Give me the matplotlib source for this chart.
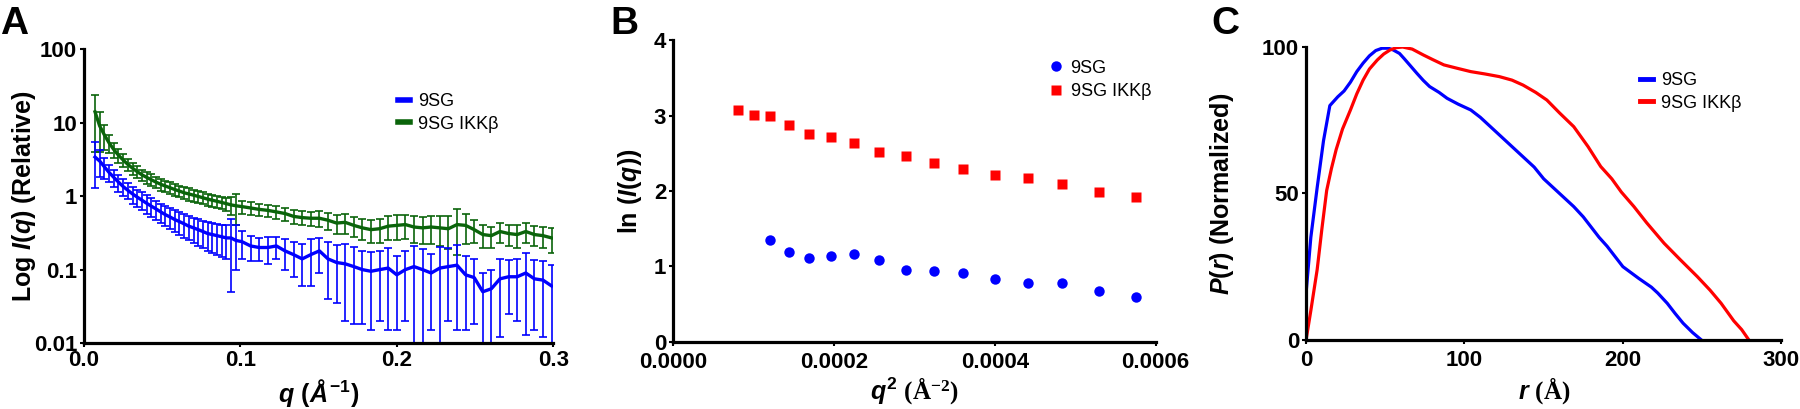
import matplotlib
matplotlib.use('Agg')
import matplotlib.pyplot as plt
from matplotlib.lines import Line2D
from matplotlib.ticker import NullLocator, FormatStrFormatter

plt.rcParams['font.family'] = ['Liberation Sans', 'DejaVu Sans']
plt.rcParams['font.weight'] = 'bold'
plt.rcParams['axes.labelweight'] = 'bold'
plt.rcParams['mathtext.fontset'] = 'custom'
plt.rcParams['mathtext.rm'] = 'Liberation Sans:bold'
plt.rcParams['mathtext.it'] = 'Liberation Sans:bold:italic'
plt.rcParams['mathtext.bf'] = 'Liberation Serif:bold'

# panel A: scattering curves
q = [0.007, 0.010, 0.013, 0.016, 0.019, 0.022, 0.025, 0.028, 0.031, 0.034,
     0.037, 0.040, 0.043, 0.046, 0.049, 0.052, 0.055, 0.058, 0.061, 0.064,
     0.067, 0.070, 0.073, 0.076, 0.079, 0.082, 0.085, 0.088, 0.091, 0.094,
     0.097, 0.101, 0.1065, 0.112, 0.1175, 0.123, 0.1285, 0.134, 0.1395, 0.145,
     0.1505, 0.156, 0.1615, 0.167, 0.1725, 0.178, 0.1835, 0.189, 0.1945, 0.200,
     0.2055, 0.211, 0.2165, 0.222, 0.2275, 0.233, 0.2385, 0.244, 0.2495, 0.255,
     0.2605, 0.266, 0.2715, 0.277, 0.2825, 0.288, 0.2935, 0.299]
i_9sg = [3.4, 3.0, 2.5, 2.1, 1.8, 1.55, 1.35, 1.2, 1.07, 0.97,
         0.88, 0.8, 0.73, 0.67, 0.61, 0.56, 0.52, 0.48, 0.45, 0.42,
         0.39, 0.37, 0.35, 0.33, 0.31, 0.30, 0.29, 0.28, 0.27, 0.27,
         0.25, 0.24, 0.21, 0.20, 0.20, 0.21, 0.18, 0.16, 0.14, 0.16,
         0.18, 0.14, 0.125, 0.12, 0.11, 0.10, 0.095, 0.10, 0.105, 0.085,
         0.10, 0.11, 0.10, 0.09, 0.105, 0.11, 0.115, 0.085, 0.078, 0.05,
         0.055, 0.075, 0.08, 0.08, 0.09, 0.075, 0.072, 0.06]
e_9sg = [2.1, 1.2, 0.8, 0.55, 0.45, 0.4, 0.35, 0.3, 0.28, 0.26,
         0.24, 0.22, 0.21, 0.2, 0.18, 0.17, 0.16, 0.16, 0.15, 0.15,
         0.14, 0.14, 0.14, 0.13, 0.13, 0.13, 0.13, 0.13, 0.13, 0.22,
         0.15, 0.1, 0.08, 0.07, 0.08, 0.07, 0.08, 0.08, 0.08, 0.1,
         0.09, 0.1, 0.09, 0.1, 0.092, 0.082, 0.08, 0.08, 0.09, 0.07,
         0.08, 0.1, 0.09, 0.075, 0.1, 0.09, 0.1, 0.07, 0.06, 0.04,
         0.045, 0.063, 0.055, 0.06, 0.077, 0.06, 0.06, 0.055]
i_ikk = [14, 9.0, 6.8, 5.3, 4.3, 3.6, 3.1, 2.7, 2.4, 2.15,
         1.95, 1.8, 1.67, 1.55, 1.45, 1.37, 1.3, 1.23, 1.17, 1.11,
         1.07, 1.03, 0.99, 0.95, 0.91, 0.88, 0.85, 0.82, 0.79, 0.76,
         0.74, 0.72, 0.69, 0.66, 0.64, 0.61, 0.58, 0.53, 0.51, 0.50,
         0.50, 0.47, 0.43, 0.44, 0.40, 0.37, 0.35, 0.36, 0.39, 0.40,
         0.41, 0.38, 0.37, 0.38, 0.37, 0.36, 0.41, 0.40, 0.35, 0.30,
         0.29, 0.33, 0.31, 0.30, 0.33, 0.30, 0.29, 0.27]
e_ikk = [10, 5, 2.5, 1.5, 1.0, 0.8, 0.6, 0.5, 0.45, 0.4,
         0.35, 0.33, 0.3, 0.28, 0.26, 0.25, 0.24, 0.22, 0.21, 0.2,
         0.2, 0.19, 0.18, 0.18, 0.17, 0.17, 0.16, 0.16, 0.16, 0.2,
         0.33, 0.14, 0.13, 0.13, 0.12, 0.12, 0.12, 0.11, 0.11, 0.11,
         0.12, 0.12, 0.12, 0.13, 0.12, 0.12, 0.12, 0.13, 0.14, 0.15,
         0.15, 0.15, 0.15, 0.16, 0.16, 0.17, 0.25, 0.18, 0.12, 0.1,
         0.09, 0.1, 0.1, 0.1, 0.1, 0.09, 0.09, 0.1]

# panel B: Guinier region
q2 = [0.000081, 0.0001, 0.000121, 0.000144, 0.000169, 0.000196, 0.000225, 0.000256,
      0.000289, 0.000324, 0.000361, 0.0004, 0.000441, 0.000484, 0.000529, 0.000576]
ln_ikk = [3.07, 3.01, 2.99, 2.88, 2.76, 2.71, 2.63, 2.52,
          2.46, 2.37, 2.29, 2.21, 2.17, 2.09, 1.99, 1.92]
q2_9sg = q2[2:]
ln_9sg = [1.35, 1.19, 1.11, 1.14, 1.16, 1.08, 0.95, 0.94, 0.91, 0.84, 0.78, 0.78, 0.67, 0.60]

# panel C: pair distance distribution
r_9sg = [0, 3, 7, 11, 15, 20, 24, 28, 32, 36, 40, 44, 48, 52, 55, 59, 62, 66, 70, 74,
         78, 84, 89, 96, 104, 110, 116, 123, 130, 137, 144, 150, 160, 169, 175, 180,
         185, 190, 195, 200, 205, 210, 214, 218, 222, 228, 233, 238, 244, 249.5]
p_9sg = [16, 35, 52, 68, 80, 83, 85, 88, 91.6, 94.5, 97, 98.8, 99.6, 99.6, 99, 97.8,
         96, 93.5, 91, 88.6, 86.5, 84.5, 82.5, 80.5, 78.5, 76, 73, 69.5, 66, 62.5,
         59, 55, 50, 45.5, 42, 38.5, 35, 32, 28.5, 25, 23, 21, 19.5, 18, 16, 12.5,
         9, 5.7, 2.5, 0]
r_ikk = [0, 3, 7, 10, 13, 16, 19, 23, 28, 32, 36, 40, 45, 49, 53, 57, 61, 67, 74, 80,
         87, 95, 104, 113, 122, 130, 137, 145, 152, 160, 169, 178, 186, 193, 199, 207,
         215, 226, 236, 247, 255, 262, 266, 270, 275, 279.5]
p_ikk = [0, 10, 24, 38, 51, 58.5, 65, 72, 78.5, 84, 88.7, 92.5, 95.6, 97.6, 99, 99.8,
         100, 99.3, 97.3, 95.7, 93.9, 92.8, 91.6, 90.8, 89.9, 88.7, 87, 84.5, 81.9,
         77.5, 72.8, 66, 59.2, 55, 50.5, 45.5, 40, 33, 27.5, 21.6, 17, 12.5, 9.5,
         6.5, 3.5, 0]

BLUE = '#0000ff'
GREEN = '#0a640a'
RED = '#ff0000'


def style_axis(ax, xpad=2):
    ax.spines['top'].set_visible(False)
    ax.spines['right'].set_visible(False)
    ax.spines['left'].set_linewidth(2.3)
    ax.spines['bottom'].set_linewidth(2.3)
    ax.tick_params(direction='out', length=3, width=1.5, labelsize=16, pad=2)
    ax.tick_params(axis='x', pad=xpad)
    for lab in ax.get_xticklabels() + ax.get_yticklabels():
        lab.set_fontweight('bold')


fig = plt.figure(figsize=(18, 4.09), dpi=100)

# A
axA = fig.add_axes([0.0467, 0.161, 0.2606, 0.719])
axA.errorbar(q, i_ikk, yerr=e_ikk, color=GREEN, lw=2.4, elinewidth=1.2,
             capsize=3, capthick=1.2)
axA.errorbar(q, i_9sg, yerr=e_9sg, color=BLUE, lw=2.4, elinewidth=1.2,
             capsize=3, capthick=1.2)
axA.set_yscale('log')
axA.set_xlim(0, 0.3)
axA.set_ylim(0.01, 100)
axA.set_yticks([0.01, 0.1, 1, 10, 100])
axA.set_yticklabels(['0.01', '0.1', '1', '10', '100'])
axA.yaxis.set_minor_locator(NullLocator())
axA.set_xticks([0.0, 0.1, 0.2, 0.3])
axA.set_xticklabels(['0.0', '0.1', '0.2', '0.3'])
style_axis(axA)
axA.set_ylabel(r'Log $I(q)$ (Relative)', fontsize=18, fontweight='bold')
axA.set_xlabel(r'$q\ (Å^{-1})$', fontsize=18)
axA.yaxis.set_label_coords(-0.098, 0.5)
axA.xaxis.set_label_coords(0.5, -0.115)
handles_a = [Line2D([], [], color=BLUE, lw=4), Line2D([], [], color=GREEN, lw=4)]
axA.legend(handles_a, ['9SG', '9SG IKK\u03b2'], loc='upper left',
           bbox_to_anchor=(0.65, 0.88), frameon=False, borderpad=0,
           handlelength=0.65, handletextpad=0.45, labelspacing=0.3,
           prop={'weight': 'normal', 'size': 13})

# B
axB = fig.add_axes([0.374, 0.164, 0.268, 0.738])
axB.plot(q2_9sg, ln_9sg, 'o', color=BLUE, ms=7.5, mec='none', label='9SG')
axB.plot(q2, ln_ikk, 's', color=RED, ms=7, mec='none', label='9SG IKK\u03b2')
axB.set_xlim(0, 0.0006)
axB.set_ylim(0, 4)
axB.set_xticks([0, 0.0002, 0.0004, 0.0006])
axB.xaxis.set_major_formatter(FormatStrFormatter('%.4f'))
axB.set_yticks([0, 1, 2, 3, 4])
style_axis(axB, xpad=4)
axB.set_ylabel(r'ln ($I(q)$)', fontsize=18, fontweight='bold')
axB.set_xlabel(r'$q^2$ $\mathbf{(Å^{-2})}$', fontsize=18)
axB.yaxis.set_label_coords(-0.06, 0.5)
axB.xaxis.set_label_coords(0.5, -0.112)
axB.legend(loc='upper left', bbox_to_anchor=(0.76, 0.965), frameon=False,
           borderpad=0, handlelength=0.8, handletextpad=0.4, labelspacing=0.35,
           prop={'weight': 'normal', 'size': 13})

# C
axC = fig.add_axes([0.7256, 0.169, 0.264, 0.716])
axC.plot(r_9sg, p_9sg, color=BLUE, lw=2.3)
axC.plot(r_ikk, p_ikk, color=RED, lw=2.3)
axC.set_xlim(0, 300)
axC.set_ylim(0, 100)
axC.set_xticks([0, 100, 200, 300])
axC.set_yticks([0, 50, 100])
style_axis(axC, xpad=4)
axC.set_ylabel(r'$P(r)$ (Normalized)', fontsize=18, fontweight='bold')
axC.set_xlabel(r'$r$ $\mathbf{(Å)}$', fontsize=18)
axC.yaxis.set_label_coords(-0.147, 0.5)
axC.xaxis.set_label_coords(0.5, -0.122)
handles_c = [Line2D([], [], color=BLUE, lw=3.5), Line2D([], [], color=RED, lw=3.5)]
axC.legend(handles_c, ['9SG', '9SG IKK\u03b2'], loc='upper left',
           bbox_to_anchor=(0.684, 0.945), frameon=False, borderpad=0,
           handlelength=0.7, handletextpad=0.45, labelspacing=0.3,
           prop={'weight': 'normal', 'size': 13})

fig.text(0.0, 0.985, 'A', fontsize=28, fontweight='bold', va='top', ha='left')
fig.text(0.339, 0.985, 'B', fontsize=28, fontweight='bold', va='top', ha='left')
fig.text(0.673, 0.985, 'C', fontsize=28, fontweight='bold', va='top', ha='left')

fig.savefig('out.png', dpi=100)
